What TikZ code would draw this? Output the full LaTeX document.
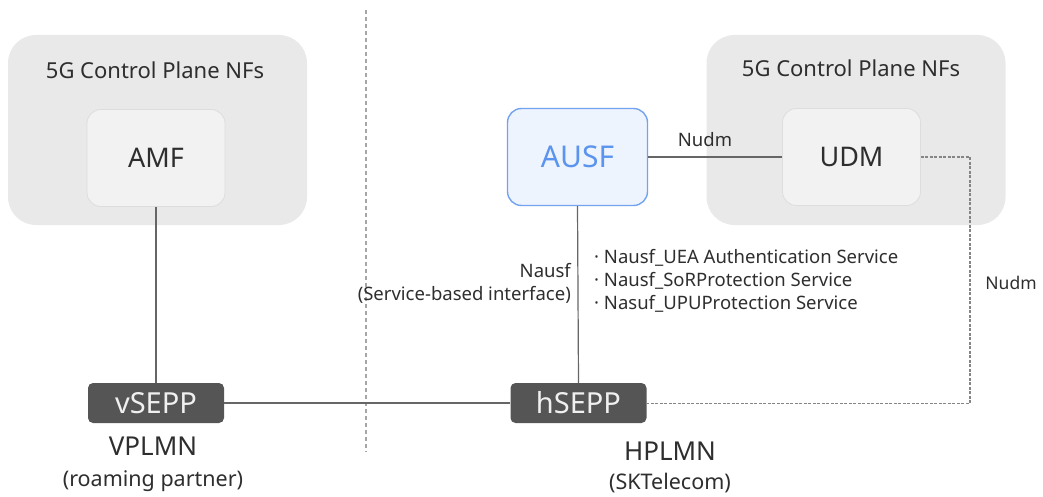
\documentclass[tikz,border=0pt]{standalone}
\usepackage{fontspec}
\setmainfont{Noto Sans}
\usetikzlibrary{positioning}
\definecolor{outergray}{HTML}{EAE9EA}
\definecolor{innergray}{HTML}{F2F2F2}
\definecolor{innerline}{HTML}{DDDDDD}
\definecolor{ausffill}{HTML}{EEF4FD}
\definecolor{ausfline}{HTML}{72A2F0}
\definecolor{ausftext}{HTML}{5A94EE}
\definecolor{seppfill}{HTML}{555555}
\definecolor{txt}{HTML}{2E2E2E}
\definecolor{linec}{HTML}{666666}
\tikzset{
  x=1pt, y=-1pt,
  outerbox/.style={fill=outergray, draw=none, rounded corners=28pt, minimum width=299pt, minimum height=190pt, inner sep=0pt},
  nfbox/.style={fill=innergray, draw=innerline, line width=0.8pt, rounded corners=14pt, minimum width=138pt, minimum height=97pt, inner sep=0pt, font=\fontsize{27}{31}\selectfont, text=txt},
  ausfbox/.style={fill=ausffill, draw=ausfline, line width=1.4pt, rounded corners=14pt, minimum width=140pt, minimum height=97pt, inner sep=0pt, font=\fontsize{30}{34}\selectfont, text=ausftext},
  seppbox/.style={fill=seppfill, draw=none, rounded corners=5pt, minimum width=136pt, minimum height=40pt, inner sep=0pt, font=\fontsize{29}{33}\selectfont, text=white!94!black},
  title/.style={font=\fontsize{22}{26}\selectfont, text=txt},
  lbl/.style={font=\fontsize{18.5}{23}\selectfont, text=txt, inner sep=0pt},
  big/.style={font=\fontsize{26}{30}\selectfont, text=txt},
  sub/.style={font=\fontsize{21.5}{25}\selectfont, text=txt},
  conn/.style={draw=linec, line width=1.2pt},
  dconn/.style={draw=linec!80, line width=1.2pt, dash pattern=on 3pt off 1.5pt},
}
\begin{document}
\begin{tikzpicture}
\useasboundingbox (0,0) rectangle (1043,497);
% outer groups
\node[outerbox] (lgrp) at (157.5,130) {};
\node[outerbox] (rgrp) at (856,130) {};
\node[title] (ltitle) at (155,70) {5G Control Plane NFs};
\node[title] (rtitle) at (851,68) {5G Control Plane NFs};
% divider
\coordinate (dtop) at (366,10);
\coordinate (dbot) at (366,452);
\draw[draw=gray!70, line width=1.3pt, dash pattern=on 4pt off 3pt] (dtop) -- (dbot);
% NFs
\node[nfbox] (amf) at (156,158) {AMF};
\node[nfbox] (udm) at (851.5,157) {UDM};
\node[ausfbox] (ausf) at (577.5,157) {AUSF};
% SEPPs
\node[seppbox] (vsepp) at (156,403) {vSEPP};
\node[seppbox] (hsepp) at (578.5,403) {hSEPP};
% connectors
\draw[conn] (amf.south) -- (vsepp.north);
\draw[conn] (vsepp.east) -- (hsepp.west);
\draw[conn] (ausf.south) -- (hsepp.north);
\draw[conn] (ausf.east) -- (udm.west);
\coordinate (corner1) at (970,157);
\coordinate (corner2) at (970,403.5);
\draw[dconn] (udm.east) -- (corner1) -- (corner2) -- (hsepp.east |- corner2);
% labels
\node[lbl] (nudm1) at (705,140) {Nudm};
\node[lbl, font=\fontsize{17.5}{21}\selectfont] (nudm2) at (1011,283) {Nudm};
\node[lbl, anchor=east, align=right] (nausf) at (571,283) {Nausf\\(Service-based interface)};
\node[lbl, anchor=west, align=left] (svc) at (594,281) {· Nausf\_UEA Authentication Service\\· Nausf\_SoRProtection Service\\· Nasuf\_UPUProtection Service};
% region labels
\node[big] (vplmn) at (153,446) {VPLMN};
\node[sub] (vsub) at (153,481) {(roaming partner)};
\node[big] (hplmn) at (670,451) {HPLMN};
\node[sub] (hsub) at (670,483) {(SKTelecom)};
\end{tikzpicture}
\end{document}
